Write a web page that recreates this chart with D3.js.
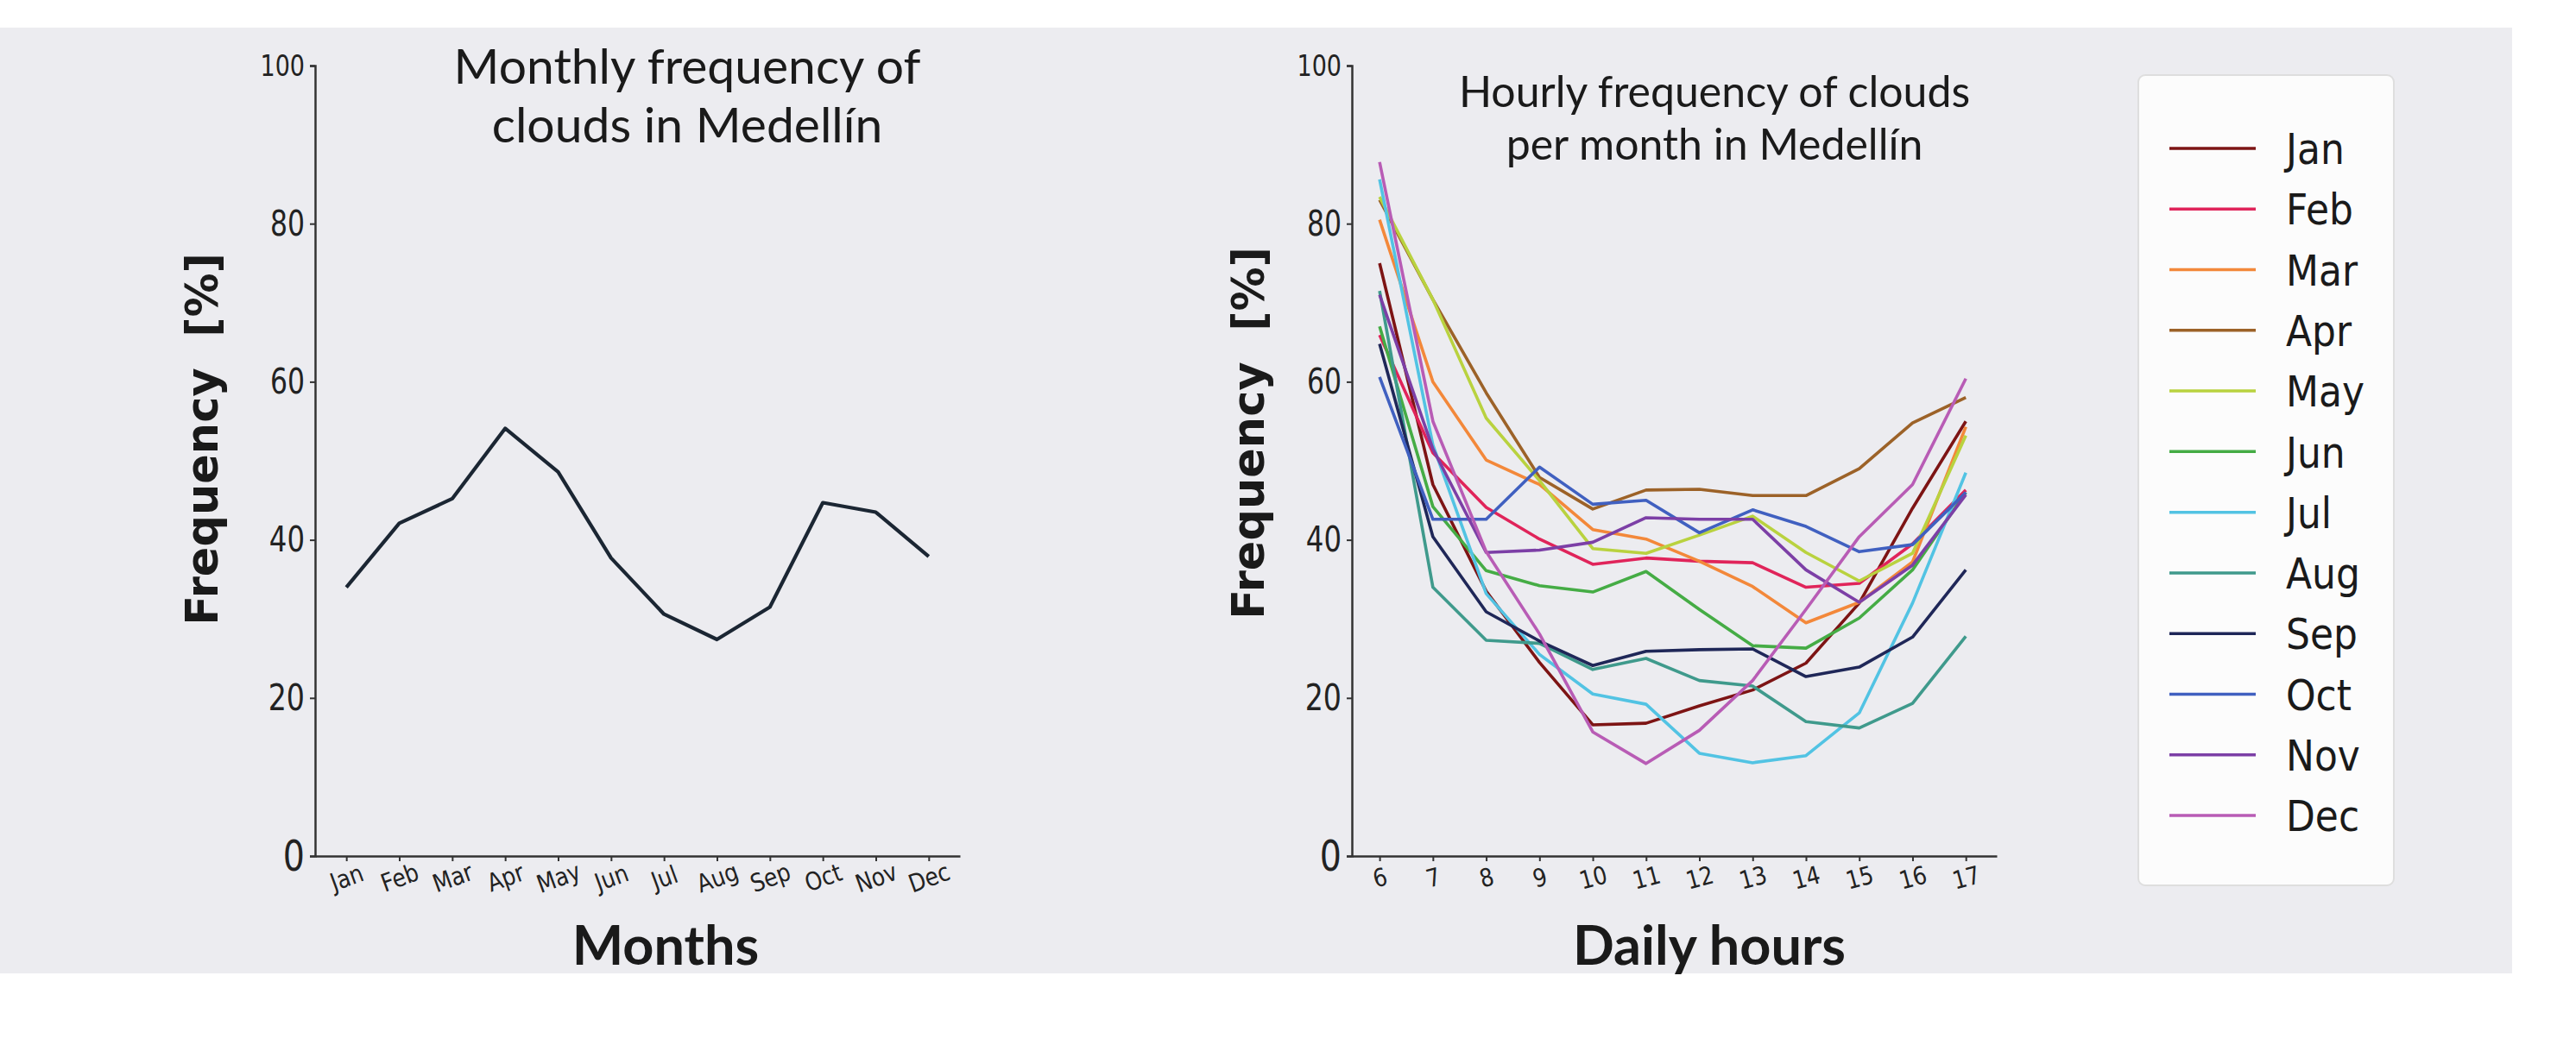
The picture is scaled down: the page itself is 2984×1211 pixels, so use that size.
<!DOCTYPE html>
<html>
<head>
<meta charset="utf-8">
<script src="https://cdn.jsdelivr.net/npm/d3@7"></script>
<style>
  html, body { margin: 0; padding: 0; background: #ffffff; }
  svg { display: block; }
  text { white-space: pre; }
</style>
</head>
<body>
<script>
// ---- data -------------------------------------------------------------
const months = ["Jan", "Feb", "Mar", "Apr", "May", "Jun", "Jul", "Aug", "Sep", "Oct", "Nov", "Dec"];
const monthlyFreq = [34.0, 42.1, 45.2, 54.1, 48.6, 37.7, 30.6, 27.4, 31.5, 44.7, 43.5, 37.9];

const hours = [6, 7, 8, 9, 10, 11, 12, 13, 14, 15, 16, 17];
const yTicks = [0, 20, 40, 60, 80, 100];

const janHourly = [75.0, 47.0, 33.5, 24.5, 16.6, 16.8, 19.0, 21.0, 24.4, 32.0, 44.0, 55.0];
const febHourly = [65.9, 51.0, 44.1, 40.1, 36.9, 37.7, 37.3, 37.1, 34.0, 34.5, 39.5, 46.3];
const marHourly = [80.5, 60.0, 50.1, 47.0, 41.3, 40.1, 37.3, 34.1, 29.5, 32.1, 37.2, 54.3];
const aprHourly = [83.0, 70.4, 58.6, 47.9, 43.9, 46.3, 46.4, 45.6, 45.6, 49.0, 54.8, 58.0];
const mayHourly = [83.4, 70.4, 55.4, 47.5, 38.9, 38.3, 40.6, 43.0, 38.4, 34.8, 38.3, 53.2];
const junHourly = [67.0, 44.2, 36.1, 34.2, 33.4, 36.0, 31.2, 26.6, 26.3, 30.1, 36.2, 46.0];
const julHourly = [85.6, 52.0, 33.2, 25.5, 20.5, 19.2, 13.0, 11.8, 12.7, 18.1, 32.0, 48.5];
const augHourly = [71.5, 34.0, 27.3, 26.9, 23.6, 25.0, 22.2, 21.5, 17.0, 16.2, 19.3, 27.8];
const sepHourly = [64.8, 40.4, 30.9, 27.2, 24.1, 25.9, 26.1, 26.2, 22.7, 23.9, 27.7, 36.2];
const octHourly = [60.6, 42.6, 42.6, 49.2, 44.5, 45.0, 40.9, 43.8, 41.7, 38.5, 39.4, 46.0];
const novHourly = [71.0, 51.5, 38.4, 38.7, 39.7, 42.8, 42.6, 42.6, 36.2, 32.1, 36.8, 45.7];
const decHourly = [87.8, 55.0, 38.5, 28.1, 15.7, 11.7, 15.9, 22.2, 31.2, 40.4, 47.0, 60.4];

const hourlySeries = [janHourly, febHourly, marHourly, aprHourly, mayHourly, junHourly,
                      julHourly, augHourly, sepHourly, octHourly, novHourly, decHourly];

// ---- styling ------------------------------------------------------------
const seriesColors = ["#7d1414", "#e0245a", "#f3883a", "#9c6228", "#b9d23f", "#45ac45",
                      "#52c3e3", "#3f9a8c", "#1f2758", "#4060c0", "#7c3fa6", "#b85cb5"];
const W = 2984, H = 1211;
const panelBg = "#ececf0";
const axisColor = "#333333";
const titleFont = "Lato, 'Open Sans', sans-serif";
const tickFont = "'DejaVu Sans', sans-serif";
const tickCondensed = "'DejaVu Sans Condensed', 'DejaVu Sans', sans-serif";
// tick label size per value (the small "100" and large "0" are part of the look)
const yTickSize = {100: 30, 80: 35, 60: 35, 40: 36, 20: 37, 0: 44};
const vStretch = 1.15;

const svg = d3.select("body").append("svg")
  .attr("width", W).attr("height", H)
  .attr("viewBox", `0 0 ${W} ${H}`);

svg.append("rect").attr("x", 0).attr("y", 0).attr("width", W).attr("height", H).attr("fill", "#ffffff");
svg.append("rect").attr("x", 0).attr("y", 32).attr("width", 2910).attr("height", 1096).attr("fill", panelBg);

// shared vertical scale for both panels
const y = d3.scaleLinear().domain([0, 100]).range([992, 76]);

function drawYAxis(g, x0) {
  const ax = g.append("g").attr("transform", `translate(${x0},0)`)
    .call(d3.axisLeft(y).tickValues(yTicks).tickSize(6).tickPadding(6).tickFormat(d3.format("d")));
  ax.select(".domain").attr("stroke", axisColor).attr("stroke-width", 2.5);
  ax.selectAll(".tick line").attr("stroke", axisColor).attr("stroke-width", 2);
  ax.selectAll(".tick text")
    .attr("fill", "#222")
    .attr("font-family", tickCondensed)
    .attr("font-size", d => yTickSize[d])
    .attr("transform", `scale(1,${vStretch})`);
  return ax;
}

function styleXAxis(ax, angle) {
  ax.select(".domain").attr("stroke", axisColor).attr("stroke-width", 2.5);
  ax.selectAll(".tick line").attr("stroke", axisColor).attr("stroke-width", 2);
  ax.selectAll(".tick text")
    .attr("fill", "#222")
    .attr("font-family", tickFont)
    .attr("font-size", 25)
    .attr("y", 0).attr("dy", "0.35em")
    .attr("text-anchor", "middle")
    .attr("transform", `translate(0,25) rotate(${angle}) scale(1,${vStretch})`);
}

// two-line title drawn as one text element
function title(g, cx, lines, y0, dy, size) {
  const t = g.append("text").attr("x", cx).attr("y", y0)
    .attr("text-anchor", "middle")
    .attr("font-family", titleFont)
    .attr("font-size", size)
    .attr("fill", "#1a1a1a");
  lines.forEach((s, i) => {
    t.append("tspan").attr("x", cx).attr("dy", i === 0 ? 0 : dy).text(s);
  });
}

function axisLabels(g, cx, xlabel, ylx, yly) {
  g.append("text").attr("x", cx).attr("y", 1118)
    .attr("text-anchor", "middle")
    .attr("font-family", titleFont).attr("font-weight", "bold")
    .attr("font-size", 63).attr("fill", "#1a1a1a")
    .text(xlabel);
  g.append("text")
    .attr("transform", `translate(${ylx},${yly}) rotate(-90)`)
    .attr("text-anchor", "middle")
    .attr("font-family", "'DejaVu Sans', sans-serif").attr("font-weight", "bold")
    .attr("font-size", 51).attr("fill", "#1a1a1a")
    .attr("dy", "0.35em")
    .text("Frequency  [%]");
}

// ---- left panel: monthly frequency --------------------------------------
const left = svg.append("g");
const xm = d3.scalePoint().domain(months).range([365, 1112]).padding(0.59);

drawYAxis(left, 365);
const axm = left.append("g").attr("transform", "translate(0,992)")
  .call(d3.axisBottom(xm).tickSize(6).tickSizeOuter(0));
styleXAxis(axm, -20);

left.append("path")
  .datum(monthlyFreq)
  .attr("fill", "none")
  .attr("stroke", "#1b2633")
  .attr("stroke-width", 4.2)
  .attr("stroke-linejoin", "round")
  .attr("d", d3.line().x((d, i) => xm(months[i])).y(d => y(d)));

title(left, 796, ["Monthly frequency of", "clouds in Medellín"], 97, 68, 57);
axisLabels(left, 771, "Months", 234, 509);

// ---- right panel: hourly frequency per month ----------------------------
const right = svg.append("g");
const xh = d3.scaleLinear().domain([5.48, 17.58]).range([1566, 2313]);

drawYAxis(right, 1566);
const axh = right.append("g").attr("transform", "translate(0,992)")
  .call(d3.axisBottom(xh).tickValues(hours).tickFormat(d3.format("d")).tickSize(6).tickSizeOuter(0));
styleXAxis(axh, -15);

const hourLine = d3.line().x((d, i) => xh(hours[i])).y(d => y(d));
right.append("g").selectAll("path")
  .data(hourlySeries)
  .join("path")
  .attr("fill", "none")
  .attr("stroke", (d, i) => seriesColors[i])
  .attr("stroke-width", 3.6)
  .attr("stroke-linejoin", "round")
  .attr("d", hourLine);

title(right, 1986, ["Hourly frequency of clouds", "per month in Medellín"], 124, 61, 50);
axisLabels(right, 1980, "Daily hours", 1446, 502);

// ---- legend -------------------------------------------------------------
const legend = svg.append("g");
legend.append("rect")
  .attr("x", 2477).attr("y", 87).attr("width", 296).attr("height", 939)
  .attr("rx", 8).attr("ry", 8)
  .attr("fill", "#fcfcfc").attr("stroke", "#dedede").attr("stroke-width", 2);

const ly = d3.scalePoint().domain(months).range([172, 945]);
const items = legend.selectAll("g.item").data(months).join("g")
  .attr("class", "item")
  .attr("transform", d => `translate(0,${ly(d)})`);
items.append("line")
  .attr("x1", 2513).attr("x2", 2613).attr("y1", 0).attr("y2", 0)
  .attr("stroke", (d, i) => seriesColors[i]).attr("stroke-width", 3.5);
items.append("text")
  .attr("x", 2648).attr("y", 0).attr("dy", "0.36em")
  .attr("font-family", tickFont).attr("font-size", 44)
  .attr("fill", "#1a1a1a")
  .attr("transform", `scale(1,${vStretch})`)
  .text(d => d);
</script>
</body>
</html>
